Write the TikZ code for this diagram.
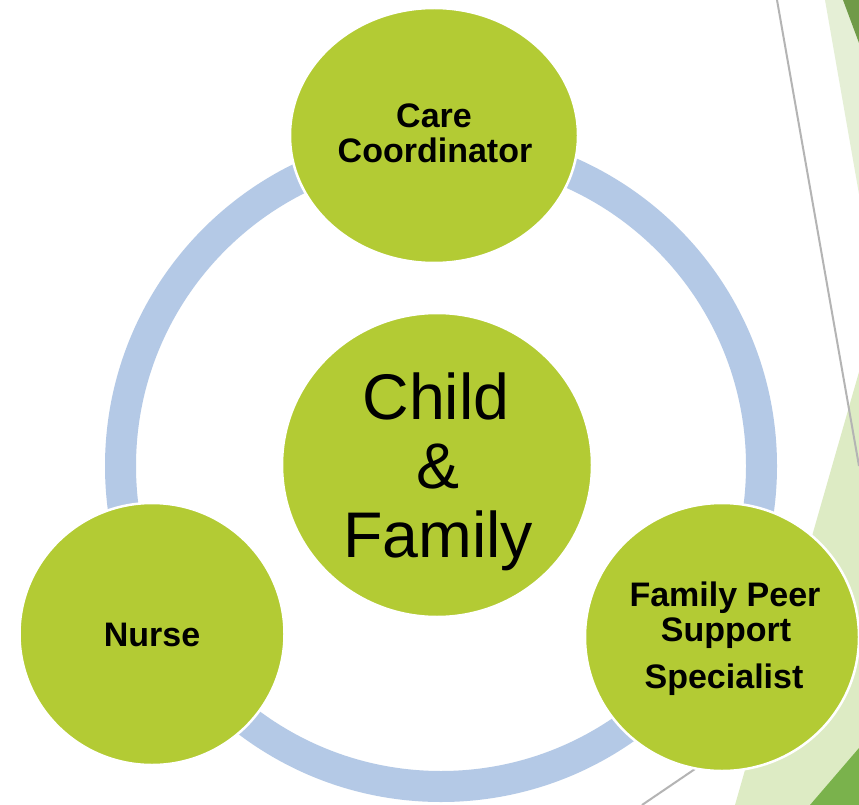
\documentclass[tikz,border=0pt]{standalone}
\usepackage{fontspec}
\setmainfont{Liberation Sans}
\usetikzlibrary{shapes.geometric}
\definecolor{cgreen}{RGB}{179,203,52}
\definecolor{ringblue}{RGB}{180,201,230}
\definecolor{lightA}{RGB}{229,239,214}
\definecolor{lightB}{RGB}{221,235,196}
\definecolor{darkA}{RGB}{112,154,72}
\definecolor{darkB}{RGB}{122,178,76}
\definecolor{grayline}{RGB}{180,180,180}
\tikzset{
  bubble/.style={ellipse, fill=cgreen, draw=white, line width=2.5pt, inner sep=0pt},
  lbl/.style={inner sep=0pt, anchor=base, font=\bfseries\fontsize{34}{36}\selectfont},
  big/.style={inner sep=0pt, anchor=base, font=\fontsize{64.5}{69}\selectfont},
}
\begin{document}
\begin{tikzpicture}[x=1pt,y=-1pt]
\useasboundingbox (0,0) rectangle (859,805);
\fill[white] (0,0) rectangle (859,805);
% background decoration
\fill[lightA] (825,0) -- (859,0) -- (859,194) -- cycle;
\fill[darkA] (843,0) -- (859,0) -- (859,43) -- cycle;
\fill[lightB] (859,372) -- (735,805) -- (859,805) -- cycle;
\fill[darkB] (810,805) -- (859,748) -- (859,805) -- cycle;
\draw[grayline, line width=2pt] (777,0) -- (859,466);
\draw[grayline, line width=2pt] (642,805) -- (745,735);
% ring
\draw[ringblue, line width=31pt] (441,466) circle[radius=320.5];
% circles
\node[bubble, minimum width=288pt, minimum height=255pt] (cc) at (434,135.5) {};
\node[bubble, minimum width=310pt, minimum height=304pt] (cf) at (437,465) {};
\node[bubble, minimum width=265pt, minimum height=262pt] (nu) at (152,634) {};
\node[bubble, minimum width=274pt, minimum height=268pt] (fp) at (722,637) {};
% texts
\node[lbl] (cc1) at (434,128) {Care};
\node[lbl] (cc2) at (435,163) {Coordinator};
\node[lbl] (nu1) at (152,646) {Nurse};
\node[lbl] (fp1) at (725,606) {Family Peer};
\node[lbl] (fp2) at (726,641) {Support};
\node[lbl] (fp3) at (724,688) {Specialist};
\node[big] (cf1) at (436,419) {Child};
\node[big] (cf2) at (438,488) {\&};
\node[big] (cf3) at (438,557) {Family};
\end{tikzpicture}
\end{document}
